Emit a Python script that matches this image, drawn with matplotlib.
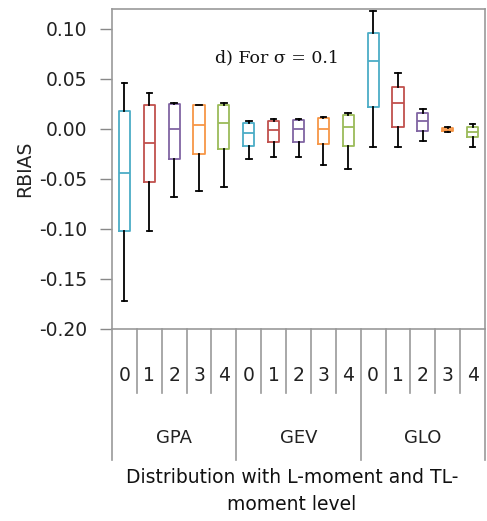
import matplotlib
matplotlib.use("Agg")
import matplotlib.pyplot as plt
import matplotlib.transforms as mtransforms

# RBIAS summaries (GPA, GEV, GLO; levels 0-4)
groups = ["GPA", "GEV", "GLO"]
levels = ["0", "1", "2", "3", "4"]
whis_hi = [0.046, 0.036, 0.026, 0.024, 0.026,
           0.008, 0.010, 0.010, 0.012, 0.016,
           0.118, 0.056, 0.020, 0.002, 0.005]
q3 = [0.018, 0.024, 0.025, 0.024, 0.024,
      0.006, 0.008, 0.009, 0.011, 0.014,
      0.096, 0.042, 0.016, 0.001, 0.002]
median = [-0.044, -0.014, 0.000, 0.004, 0.006,
          -0.004, -0.001, 0.000, 0.000, 0.002,
          0.068, 0.026, 0.008, -0.001, -0.003]
q1 = [-0.102, -0.053, -0.030, -0.025, -0.020,
      -0.017, -0.013, -0.013, -0.015, -0.017,
      0.022, 0.002, -0.002, -0.002, -0.008]
whis_lo = [-0.172, -0.102, -0.068, -0.062, -0.058,
           -0.030, -0.028, -0.028, -0.036, -0.040,
           -0.018, -0.018, -0.012, -0.003, -0.018]
level_colors = ["#4BACC6", "#C0504D", "#8064A2", "#F79646", "#9BBB59"]

fig = plt.figure(figsize=(4.87, 5.21), dpi=100)
ax = fig.add_axes([112 / 487, 1 - 329 / 521, 373 / 487, 320 / 521])

stats = []
for i in range(len(median)):
    stats.append({"whislo": whis_lo[i], "q1": q1[i], "med": median[i],
                  "q3": q3[i], "whishi": whis_hi[i]})
positions = list(range(1, len(stats) + 1))
bp = ax.bxp(stats, positions=positions, widths=0.45, showfliers=False,
            patch_artist=False)
for i in range(len(stats)):
    c = level_colors[i % 5]
    bp["boxes"][i].set(color=c, linewidth=1.3)
    bp["medians"][i].set(color=c, linewidth=1.3)
for w in bp["whiskers"] + bp["caps"]:
    w.set(color="black", linewidth=1.3)

yt = [-0.20, -0.15, -0.10, -0.05, 0.00, 0.05, 0.10]
ax.set_xlim(0.5, 15.5)
ax.set_ylim(-0.20, 0.12)
ax.set_yticks(yt)
ax.set_yticklabels(["%.2f" % v for v in yt])
ax.tick_params(axis="y", direction="out", length=8.5, width=1, color="#888888",
               labelsize=13.5, labelcolor="#222222", pad=9)
ax.set_xticks([])
for s in ax.spines.values():
    s.set_color("#999999")
    s.set_linewidth(1.2)

ax.set_ylabel("RBIAS", fontsize=13.5, color="#222222")
ax.yaxis.set_label_coords(-0.21, 0.5)

ax.text(0.275, 0.848, "d) For σ = 0.1", transform=ax.transAxes,
        family="DejaVu Serif", fontsize=12.5, color="#111111", va="center")

# multi-level category axis
trans = mtransforms.blended_transform_factory(ax.transData, ax.transAxes)
for i in range(len(stats) + 1):
    b = 0.5 + i
    low = -0.41 if i % 5 == 0 else -0.2
    ax.plot([b, b], [0, low], transform=trans, color="#999999", lw=1.2,
            clip_on=False)
for i in range(len(stats)):
    ax.text(positions[i], -0.145, levels[i % 5], transform=trans,
            ha="center", va="center", fontsize=13.5, color="#222222")
for g, name in enumerate(groups):
    ax.text(3 + 5 * g, -0.34, name, transform=trans, ha="center",
            va="center", fontsize=13, color="#222222")

fig.text(292 / 487, 1 - 491 / 521, "Distribution with L-moment and TL-\nmoment level",
         ha="center", va="center", fontsize=13.5, color="#111111",
         linespacing=1.5)

fig.savefig("out.png", dpi=100)
